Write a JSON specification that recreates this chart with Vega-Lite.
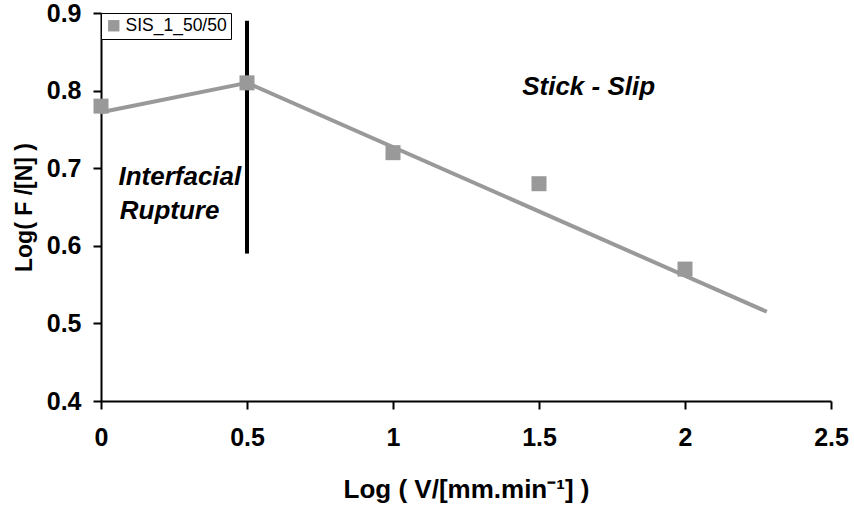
{
  "$schema": "https://vega.github.io/schema/vega-lite/v6.json",
  "width": 730,
  "height": 388,
  "autosize": {"type": "none"},
  "padding": {"left": 101, "top": 13, "right": 23, "bottom": 107},
  "background": "white",
  "config": {
    "view": {"stroke": null},
    "font": "Liberation Sans",
    "axis": {
      "grid": false,
      "domainColor": "black",
      "domainWidth": 2,
      "tickColor": "black",
      "tickWidth": 2,
      "tickSize": 8,
      "labelFont": "Liberation Sans",
      "labelFontWeight": "bold",
      "labelFontSize": 25,
      "labelColor": "black",
      "titleFont": "Liberation Sans",
      "titleFontWeight": "bold",
      "titleColor": "black"
    }
  },
  "datasets": {
    "points": [
      {"x": 0, "y": 0.78, "series": "SIS_1_50/50"},
      {"x": 0.5, "y": 0.81, "series": "SIS_1_50/50"},
      {"x": 1, "y": 0.72, "series": "SIS_1_50/50"},
      {"x": 1.5, "y": 0.68, "series": "SIS_1_50/50"},
      {"x": 2, "y": 0.57, "series": "SIS_1_50/50"}
    ],
    "trend": [
      {"seg": "a", "x": 0, "y": 0.772},
      {"seg": "a", "x": 0.5, "y": 0.81},
      {"seg": "b", "x": 0.5, "y": 0.81},
      {"seg": "b", "x": 2.28, "y": 0.515}
    ],
    "vline": [
      {"x": 0.5, "y1": 0.59, "y2": 0.89}
    ],
    "labels": [
      {"x": 1.67, "y": 0.805, "text": "Stick - Slip"},
      {"x": 0.27, "y": 0.689, "text": "Interfacial"},
      {"x": 0.235, "y": 0.645, "text": "Rupture"}
    ]
  },
  "layer": [
    {
      "data": {"name": "trend"},
      "mark": {"type": "line", "color": "#999999", "strokeWidth": 4},
      "encoding": {
        "x": {"field": "x", "type": "quantitative", "scale": {"domain": [0, 2.5], "nice": false},
          "axis": {"values": [0, 0.5, 1, 1.5, 2, 2.5], "title": "Log ( V/[mm.min⁻¹] )", "titleFontSize": 26, "labelPadding": 16, "titlePadding": 26, "format": "~g", "labelFlush": false}},
        "y": {"field": "y", "type": "quantitative", "scale": {"domain": [0.4, 0.9], "nice": false},
          "axis": {"values": [0.4, 0.5, 0.6, 0.7, 0.8, 0.9], "title": "Log( F /[N] )", "titleFontSize": 23, "format": ".1f", "labelPadding": 12, "titlePadding": 10}},
        "detail": {"field": "seg"}
      }
    },
    {
      "data": {"name": "vline"},
      "mark": {"type": "rule", "color": "black", "strokeWidth": 4},
      "encoding": {
        "x": {"field": "x", "type": "quantitative"},
        "y": {"field": "y1", "type": "quantitative"},
        "y2": {"field": "y2"}
      }
    },
    {
      "data": {"name": "points"},
      "mark": {"type": "point", "shape": "square", "filled": true, "opacity": 1, "size": 225},
      "encoding": {
        "x": {"field": "x", "type": "quantitative"},
        "y": {"field": "y", "type": "quantitative"},
        "color": {"field": "series", "type": "nominal",
          "scale": {"range": ["#999999"]},
          "legend": {"title": null, "orient": "none", "legendX": 0, "legendY": 0,
            "strokeColor": "black", "fillColor": "white", "padding": 4,
            "labelFont": "Liberation Sans", "labelFontSize": 17.5, "labelColor": "black",
            "symbolType": "square", "symbolSize": 130, "symbolOpacity": 1, "symbolStrokeWidth": 0, "symbolOffset": 0, "labelOffset": 3}}
      }
    },
    {
      "data": {"name": "labels"},
      "mark": {"type": "text", "fontWeight": "bold", "fontStyle": "italic", "fontSize": 26, "font": "Liberation Sans", "color": "black"},
      "encoding": {
        "x": {"field": "x", "type": "quantitative"},
        "y": {"field": "y", "type": "quantitative"},
        "text": {"field": "text"}
      }
    }
  ]
}
